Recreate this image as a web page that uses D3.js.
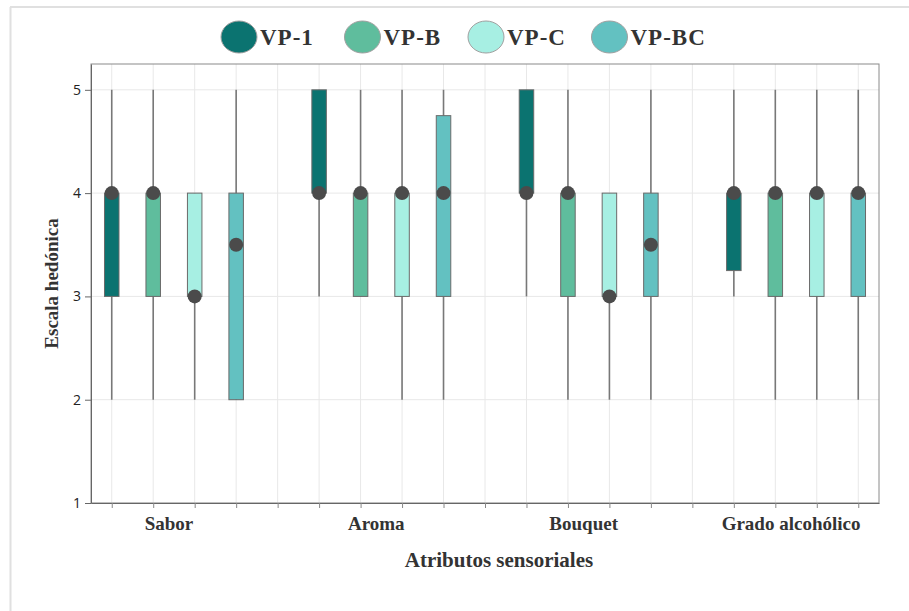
<!DOCTYPE html>
<html>
<head>
<meta charset="utf-8">
<script src="https://cdn.jsdelivr.net/npm/d3@7"></script>
<style>
  html, body { margin: 0; padding: 0; background: #fff; }
  svg { display: block; }
</style>
</head>
<body>
<svg id="chart" width="909" height="611"></svg>
<script>
// Sensory attributes and wine samples
const categories = ["Sabor", "Aroma", "Bouquet", "Grado alcohólico"];
const seriesNames = ["VP-1", "VP-B", "VP-C", "VP-BC"];
const seriesColors = ["#0b7370", "#5fbd9d", "#a7efe3", "#63c1c1"];

// Five-number summaries per sample, one value per attribute (same order as categories)
const minVals = {
  "VP-1":  [2, 3, 3, 3],
  "VP-B":  [2, 3, 2, 2],
  "VP-C":  [2, 2, 2, 2],
  "VP-BC": [2, 2, 2, 2]
};
const q1Vals = {
  "VP-1":  [3, 4, 4, 3.25],
  "VP-B":  [3, 3, 3, 3],
  "VP-C":  [3, 3, 3, 3],
  "VP-BC": [2, 3, 3, 3]
};
const medianVals = {
  "VP-1":  [4, 4, 4, 4],
  "VP-B":  [4, 4, 4, 4],
  "VP-C":  [3, 4, 3, 4],
  "VP-BC": [3.5, 4, 3.5, 4]
};
const q3Vals = {
  "VP-1":  [4, 5, 5, 4],
  "VP-B":  [4, 4, 4, 4],
  "VP-C":  [4, 4, 4, 4],
  "VP-BC": [4, 4.75, 4, 4]
};
const maxVals = {
  "VP-1":  [5, 5, 5, 5],
  "VP-B":  [5, 5, 5, 5],
  "VP-C":  [4, 5, 4, 5],
  "VP-BC": [5, 5, 5, 5]
};
const yTicks = [1, 2, 3, 4, 5];

const svg = d3.select("#chart");
const W = 909, H = 611;
const margin = { left: 91, right: 30, top: 64, bottom: 108 };
const serif = "'Times New Roman', 'Liberation Serif', serif";

// Outer frame lines
svg.append("line").attr("x1", 10).attr("x2", W).attr("y1", 7).attr("y2", 7)
  .attr("stroke", "#e0e0e0").attr("stroke-width", 2);
svg.append("line").attr("x1", 10.5).attr("x2", 10.5).attr("y1", 7).attr("y2", H)
  .attr("stroke", "#e0e0e0").attr("stroke-width", 2);

// One slot per box, with an empty slot between attribute groups
const slots = [];
categories.forEach((c, ci) => {
  seriesNames.forEach(s => slots.push(c + "|" + s));
  if (ci < categories.length - 1) slots.push(c + "|gap");
});

const x = d3.scalePoint().domain(slots)
  .range([margin.left, W - margin.right]).padding(0.5);
const y = d3.scaleLinear().domain([1, 5.25])
  .range([H - margin.bottom, margin.top]);

const x0 = margin.left, x1 = W - margin.right;
const yb = y(1), yt = y(5.25);

// Grid
const grid = svg.append("g");
grid.selectAll("line.v").data(slots).join("line")
  .attr("x1", d => x(d)).attr("x2", d => x(d))
  .attr("y1", yt).attr("y2", yb)
  .attr("stroke", "#e8e8e8").attr("stroke-width", 1);
grid.selectAll("line.h").data(yTicks).join("line")
  .attr("x1", x0).attr("x2", x1)
  .attr("y1", d => y(d)).attr("y2", d => y(d))
  .attr("stroke", "#e8e8e8").attr("stroke-width", 1);

// Plot frame
svg.append("rect").attr("x", x0).attr("y", yt)
  .attr("width", x1 - x0).attr("height", yb - yt)
  .attr("fill", "none").attr("stroke", "#8a8a8a").attr("stroke-width", 1);

// Y axis
const yAxis = svg.append("g").attr("transform", `translate(${x0},0)`)
  .call(d3.axisLeft(y).tickValues(yTicks).tickSizeInner(6).tickSizeOuter(0)
    .tickPadding(4).tickFormat(d3.format("d")));
yAxis.select(".domain").attr("stroke", "#666");
yAxis.selectAll(".tick line").attr("stroke", "#666");
yAxis.selectAll(".tick text").attr("fill", "#222")
  .style("font-family", "'Open Sans', 'Noto Sans', sans-serif").style("font-size", "14px");

// X axis ticks at every slot, labels centred on each group
const xAxis = svg.append("g").attr("transform", `translate(0,${yb})`)
  .call(d3.axisBottom(x).tickSizeInner(5).tickSizeOuter(0).tickFormat(""));
xAxis.select(".domain").attr("stroke", "#666");
xAxis.selectAll(".tick line").attr("stroke", "#888");

categories.forEach(c => {
  const cx = d3.mean(seriesNames, s => x(c + "|" + s));
  svg.append("text")
    .attr("x", cx - 5).attr("y", yb + 27)
    .attr("text-anchor", "middle")
    .attr("fill", "#333")
    .style("font-family", serif).style("font-weight", "bold").style("font-size", "19px")
    .text(c);
});

// Axis titles
svg.append("text")
  .attr("x", 499).attr("y", 567)
  .attr("text-anchor", "middle").attr("fill", "#333")
  .style("font-family", serif).style("font-weight", "bold").style("font-size", "21px")
  .text("Atributos sensoriales");
svg.append("text")
  .attr("transform", `translate(58,${(yt + yb) / 2}) rotate(-90)`)
  .attr("text-anchor", "middle").attr("fill", "#333")
  .style("font-family", serif).style("font-weight", "bold").style("font-size", "19px")
  .text("Escala hedónica");

// Box plots
const boxW = 14.5;
const boxes = svg.append("g");
categories.forEach((c, ci) => {
  seriesNames.forEach((s, si) => {
    const cx = x(c + "|" + s);
    const g = boxes.append("g");
    g.append("line")
      .attr("x1", cx).attr("x2", cx)
      .attr("y1", y(minVals[s][ci])).attr("y2", y(maxVals[s][ci]))
      .attr("stroke", "#787878").attr("stroke-width", 1.6);
    g.append("rect")
      .attr("x", cx - boxW / 2).attr("width", boxW)
      .attr("y", y(q3Vals[s][ci]))
      .attr("height", y(q1Vals[s][ci]) - y(q3Vals[s][ci]))
      .attr("fill", seriesColors[si])
      .attr("stroke", "#6a6a6a").attr("stroke-width", 1);
    g.append("circle")
      .attr("cx", cx).attr("cy", y(medianVals[s][ci])).attr("r", 7)
      .attr("fill", "#4b4b4b");
  });
});

// Legend
const legend = svg.append("g");
seriesNames.forEach((s, i) => {
  const cx = 239 + i * 123.5;
  legend.append("ellipse")
    .attr("cx", cx).attr("cy", 37).attr("rx", 18).attr("ry", 16)
    .attr("fill", seriesColors[i]).attr("stroke", "#a0a0a0").attr("stroke-width", 1);
  legend.append("text")
    .attr("x", cx + 21).attr("y", 45)
    .attr("fill", "#333")
    .style("font-family", serif).style("font-weight", "bold").style("font-size", "23px")
    .style("letter-spacing", "1px")
    .text(s);
});
</script>
</body>
</html>
